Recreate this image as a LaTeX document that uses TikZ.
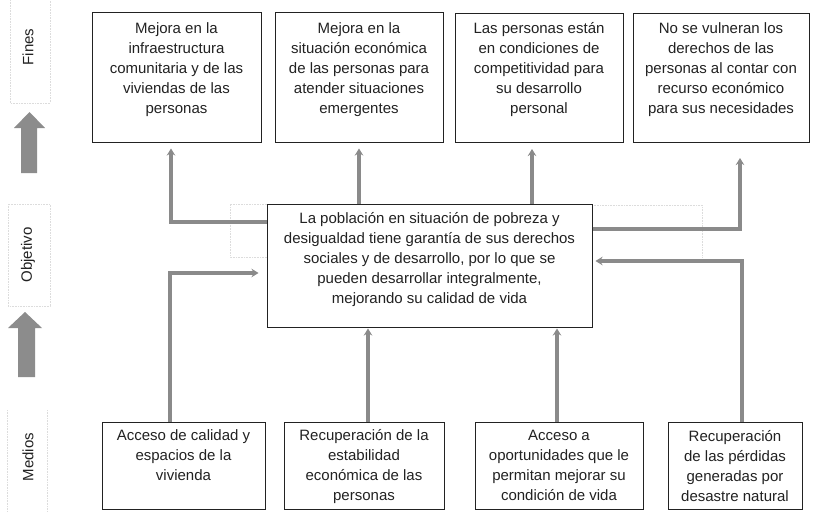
\documentclass[tikz,border=0pt]{standalone}
\usepackage{fontspec}
\setmainfont{Liberation Sans}
\usetikzlibrary{arrows.meta,positioning}

\definecolor{tinta}{HTML}{222222}
\definecolor{flechagris}{HTML}{8A8A8A}
\definecolor{bloquegris}{HTML}{8C8C8C}
\definecolor{punteado}{HTML}{DCDCDC}

\begin{document}
\begin{tikzpicture}[x=1pt,y=-1pt,
  caja/.style={draw=tinta,line width=1pt,inner sep=0pt},
  texto/.style={align=center,inner sep=0pt,text=tinta,font=\fontsize{15}{20}\selectfont},
  lado/.style={rotate=90,inner sep=0pt,text=tinta,font=\fontsize{15}{18}\selectfont},
  flecha/.style={draw=flechagris,line width=3.4pt,-{Stealth[length=7pt,width=8.5pt]}},
  guia/.style={draw=punteado,densely dotted,line width=0.6pt}]
  \fill[white] (0,0) rectangle (813,511);
  \useasboundingbox (0,0) rectangle (813,511);
% Side column
  \draw[guia] (10,0) -- (10,103) -- (50,103) -- (50,0);
  \draw[guia] (8,204) rectangle (50,306);
  \draw[guia] (7,410) -- (7,511);
  \draw[guia] (47,410) -- (47,511);
  \draw[guia] (267,204) -- (230,204) -- (230,257) -- (267,257);
  \draw[guia] (592,205) -- (702,205) -- (702,257);
  \node[lado] (fines) at (28,47) {Fines};
  \node[lado] (objetivo) at (28,255) {Objetivo};
  \node[lado] (medios) at (28,457) {Medios};
  \fill[bloquegris] (29.5,112) -- (45,128) -- (37,128) -- (37,173) -- (21,173) -- (21,128) -- (14,128) -- cycle;
  \fill[bloquegris] (25,312) -- (42,328) -- (35,328) -- (35,377) -- (18,377) -- (18,328) -- (8,328) -- cycle;
% Fines
  \node[caja,minimum width=169pt,minimum height=129pt] (f1) at (176.5,77.5) {};
  \node[caja,minimum width=168pt,minimum height=129pt] (f2) at (359,77.5) {};
  \node[caja,minimum width=168pt,minimum height=129pt] (f3) at (539,78) {};
  \node[caja,minimum width=176pt,minimum height=129pt] (f4) at (721,78) {};
  \node[texto,below=9.5pt of f1.north] (tf1) {Mejora en la\\infraestructura\\comunitaria y de las\\viviendas de las\\personas};
  \node[texto,below=9.5pt of f2.north] (tf2) {Mejora en la\\situación económica\\de las personas para\\atender situaciones\\emergentes};
  \node[texto,below=9.5pt of f3.north] (tf3) {Las personas están\\en condiciones de\\competitividad para\\su desarrollo\\personal};
  \node[texto,below=9.5pt of f4.north] (tf4) {No se vulneran los\\derechos de las\\personas al contar con\\recurso económico\\para sus necesidades};
% Objetivo
  \node[caja,minimum width=325pt,minimum height=123pt] (obj) at (429.5,265.5) {};
  \node[texto,below=9pt of obj.north] (tobj) {La población en situación de pobreza y\\desigualdad tiene garantía de sus derechos\\sociales y de desarrollo, por lo que se\\pueden desarrollar integralmente,\\mejorando su calidad de vida};
% Medios
  \node[caja,minimum width=163pt,minimum height=87pt] (m1) at (183.5,465.5) {};
  \node[caja,minimum width=160pt,minimum height=87pt] (m2) at (364,465.5) {};
  \node[caja,minimum width=168pt,minimum height=87pt] (m3) at (559,466) {};
  \node[caja,minimum width=134pt,minimum height=87pt] (m4) at (735,466) {};
  \node[texto,below=8pt of m1.north] (tm1) {Acceso de calidad y\\espacios de la\\vivienda};
  \node[texto,below=8pt of m2.north] (tm2) {Recuperación de la\\estabilidad\\económica de las\\personas};
  \node[texto,below=8pt of m3.north] (tm3) {Acceso a\\oportunidades que le\\permitan mejorar su\\condición de vida};
  \node[texto,below=8pt of m4.north] (tm4) {Recuperación\\de las pérdidas\\generadas por\\desastre natural};
% Arrows up to the ends
  \coordinate (p1) at ([xshift=-5.5pt]f1.south);
  \coordinate (p3) at ([xshift=-7pt]f3.south);
  \coordinate (p4) at ([xshift=19pt]f4.south);
  \draw[flecha,shorten >=6pt] ([yshift=43.5pt]obj.west) -| (p1);
  \draw[flecha,shorten >=6pt] (obj.north -| f2.south) -- (f2.south);
  \draw[flecha,shorten >=6pt] (p3 |- obj.north) -- (p3);
  \draw[flecha,shorten >=15pt] ([yshift=36.5pt]obj.east) -| (p4);
% Arrows from the means
  \coordinate (q1) at ([xshift=-13.5pt]m1.north);
  \coordinate (q2) at ([xshift=4pt]m2.north);
  \coordinate (q3) at ([xshift=-2pt]m3.north);
  \coordinate (q4) at ([xshift=7pt]m4.north);
  \draw[flecha,shorten >=8pt] (q1) |- ([yshift=-7.5pt]obj.west);
  \draw[flecha,shorten >=1pt] (q2) -- (q2 |- obj.south);
  \draw[flecha,shorten >=1pt] (q3) -- (q3 |- obj.south);
  \draw[flecha,shorten >=3pt] (q4) |- ([yshift=4.5pt]obj.east);
\end{tikzpicture}
\end{document}
